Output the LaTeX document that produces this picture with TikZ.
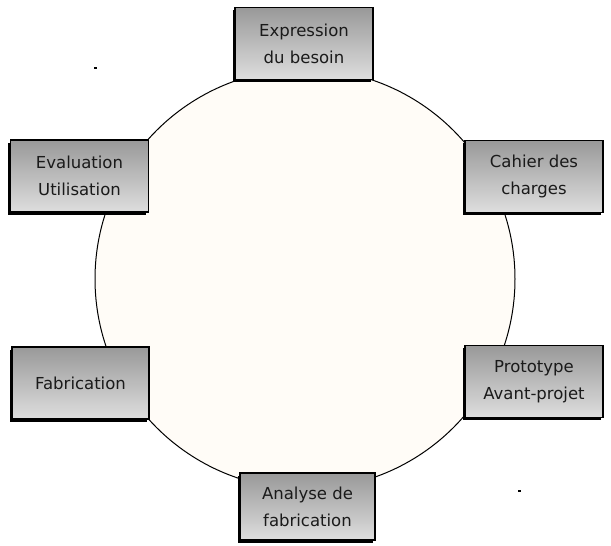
\documentclass[tikz,border=0pt]{standalone}
\usepackage{fontspec}
\setmainfont{DejaVu Sans}
\usepackage{tikz}
\usetikzlibrary{shadows}

\definecolor{krem}{HTML}{FFFCF7}
\definecolor{sivazg}{HTML}{999999}
\definecolor{sivasp}{HTML}{DEDEDE}
\definecolor{crnilo}{HTML}{1A1A1A}

\tikzset{
  korak/.style={draw=black, line width=1.2pt, minimum width=138pt, minimum height=72pt,
    inner sep=0pt, align=center, text=crnilo, font=\fontsize{16.5}{27}\selectfont,
    top color=sivazg, bottom color=sivasp,
    drop shadow={shadow xshift=-2.5pt, shadow yshift=-2.5pt, fill=black, opacity=1}},
}

\begin{document}
\begin{tikzpicture}[x=1pt,y=-1pt]
\useasboundingbox (0,0) rectangle (611,546);

\coordinate (sred) at (305,279);
\coordinate (p0) at (304,43.5);
\coordinate (p1) at (534,176.5);
\coordinate (p2) at (534,381.5);
\coordinate (p3) at (307.5,506.5);
\coordinate (p4) at (80.5,383);
\coordinate (p5) at (79.5,176);

% krog
\node[circle, draw=black, line width=1pt, fill=krem, minimum size=420pt, inner sep=0pt] (krog) at (sred) {};

\node[korak] (besoin) at (p0) {Expression\\du besoin};
\node[korak] (cahier) at (p1) {Cahier des\\charges};
\node[korak] (proto) at (p2) {Prototype\\Avant-projet};
\node[korak, minimum width=135pt, minimum height=67pt] (analyse) at (p3) {Analyse de\\fabrication};
\node[korak, minimum width=137pt] (fabr) at (p4) {Fabrication};
\node[korak] (eval) at (p5) {Evaluation\\Utilisation};

% pikice
\foreach \x/\y in {95.5/68, 519.5/491}
\fill[black] (\x-1.5,\y-1) rectangle (\x+1.5,\y+1);
\end{tikzpicture}
\end{document}
